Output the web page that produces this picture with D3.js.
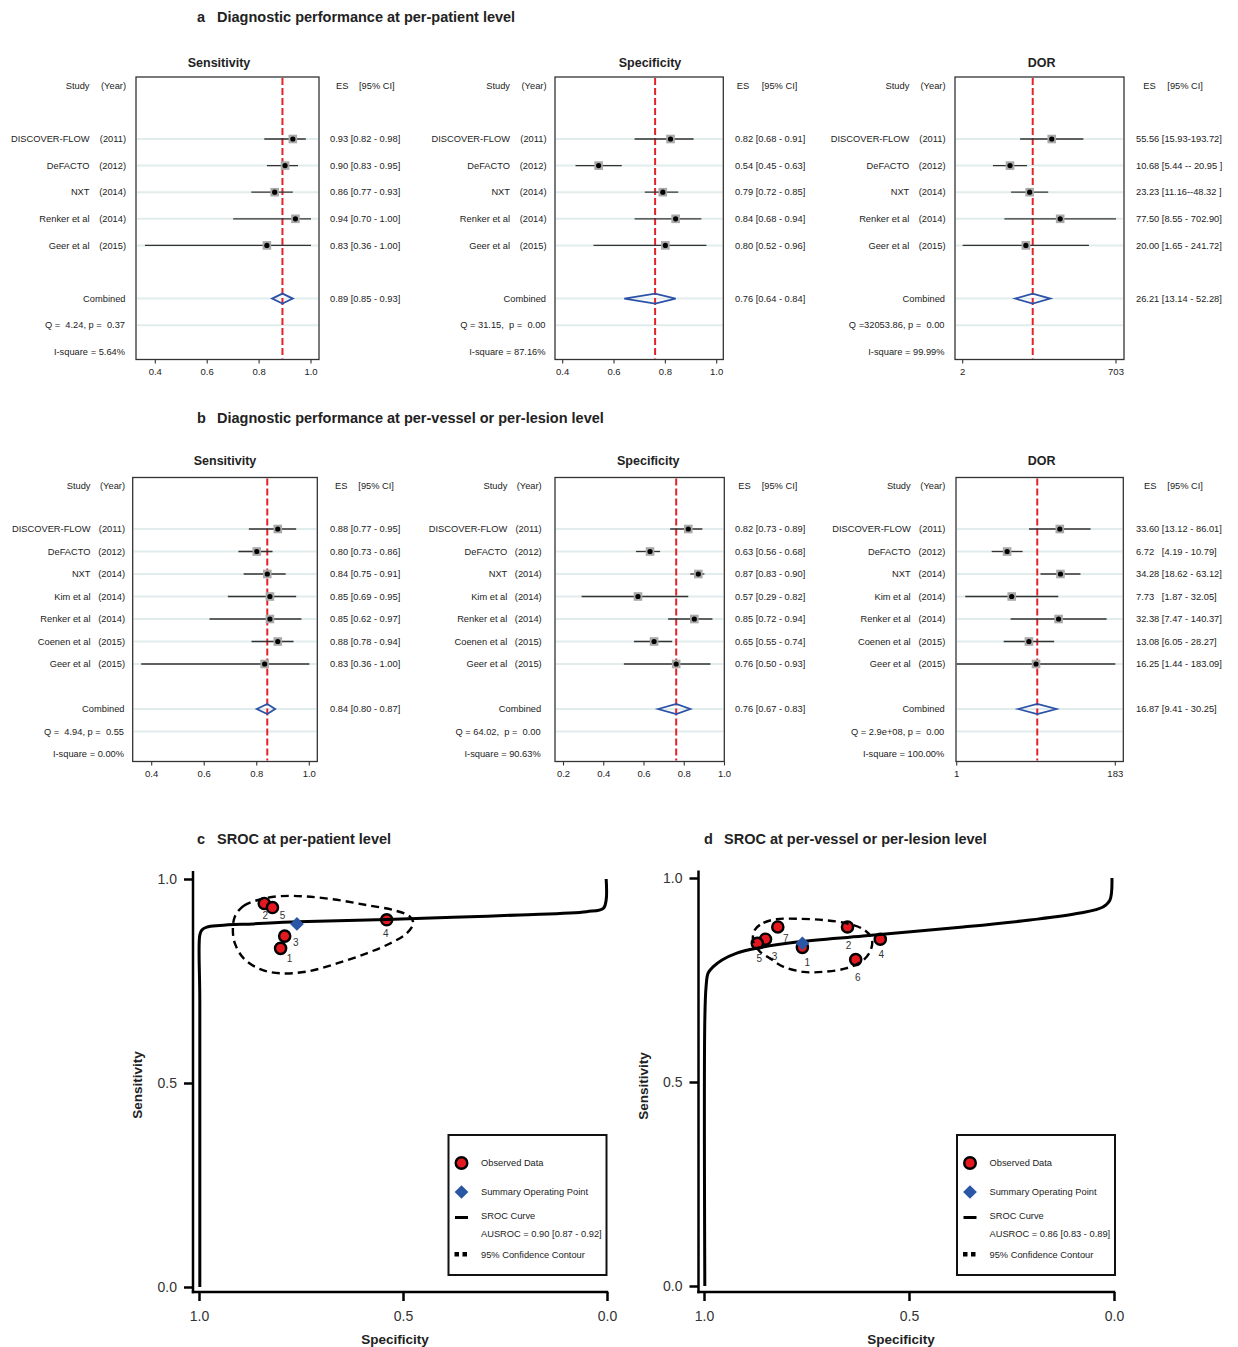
<!DOCTYPE html>
<html><head><meta charset="utf-8">
<script src="https://cdn.jsdelivr.net/npm/d3@7"></script>
<style>
body{margin:0;background:#fff;}
svg{display:block;font-family:"Liberation Sans",Arial,sans-serif;}
text{white-space:pre;}
</style></head><body>
<svg id="chart" width="1238" height="1347"></svg>
<script>
// ================= DATA =================
// Panel a (per-patient)
const studiesA = ["DISCOVER-FLOW","DeFACTO","NXT","Renker et al","Geer et al"];
const yearsA = ["(2011)","(2012)","(2014)","(2014)","(2015)"];
const sensA = [[0.93,0.82,0.98],[0.90,0.83,0.95],[0.86,0.77,0.93],[0.94,0.70,1.00],[0.83,0.36,1.00]];
const specA = [[0.82,0.68,0.91],[0.54,0.45,0.63],[0.79,0.72,0.85],[0.84,0.68,0.94],[0.80,0.52,0.96]];
const dorA  = [[55.56,15.93,193.72],[10.68,5.44,20.95],[23.23,11.16,48.32],[77.50,8.55,702.90],[20.00,1.65,241.72]];
const dorA_labels = ["55.56 [15.93-193.72]","10.68 [5.44 -- 20.95 ]","23.23 [11.16--48.32 ]","77.50 [8.55 - 702.90]","20.00 [1.65 - 241.72]"];
const sensA_comb = [0.89,0.85,0.93];
const specA_comb = [0.76,0.64,0.84];
const dorA_comb  = [26.21,13.14,52.28];
const dorA_comb_label = "26.21 [13.14 - 52.28]";
const qA = ["Q =  4.24, p =  0.37","Q = 31.15,  p =  0.00","Q =32053.86, p =  0.00"];
const iA = ["I-square = 5.64%","I-square = 87.16%","I-square = 99.99%"];
const sensTicksA = [0.4,0.6,0.8,1.0];
const specTicksA = [0.4,0.6,0.8,1.0];
const dorTicksA = [1.65,702.90];
const dorTickLabelsA = ["2","703"];

// Panel b (per-vessel / per-lesion)
const studiesB = ["DISCOVER-FLOW","DeFACTO","NXT","Kim et al","Renker et al","Coenen et al","Geer et al"];
const yearsB = ["(2011)","(2012)","(2014)","(2014)","(2014)","(2015)","(2015)"];
const sensB = [[0.88,0.77,0.95],[0.80,0.73,0.86],[0.84,0.75,0.91],[0.85,0.69,0.95],[0.85,0.62,0.97],[0.88,0.78,0.94],[0.83,0.36,1.00]];
const specB = [[0.82,0.73,0.89],[0.63,0.56,0.68],[0.87,0.83,0.90],[0.57,0.29,0.82],[0.85,0.72,0.94],[0.65,0.55,0.74],[0.76,0.50,0.93]];
const dorB  = [[33.60,13.12,86.01],[6.72,4.19,10.79],[34.28,18.62,63.12],[7.73,1.87,32.05],[32.38,7.47,140.37],[13.08,6.05,28.27],[16.25,1.44,183.09]];
const dorB_labels = ["33.60 [13.12 - 86.01]","6.72   [4.19 - 10.79]","34.28 [18.62 - 63.12]","7.73   [1.87 - 32.05]","32.38 [7.47 - 140.37]","13.08 [6.05 - 28.27]","16.25 [1.44 - 183.09]"];
const sensB_comb = [0.84,0.80,0.87];
const specB_comb = [0.76,0.67,0.83];
const dorB_comb  = [16.87,9.41,30.25];
const dorB_comb_label = "16.87 [9.41 - 30.25]";
const qB = ["Q =  4.94, p =  0.55","Q = 64.02,  p =  0.00","Q = 2.9e+08, p =  0.00"];
const iB = ["I-square = 0.00%","I-square = 90.63%","I-square = 100.00%"];
const sensTicksB = [0.4,0.6,0.8,1.0];
const specTicksB = [0.2,0.4,0.6,0.8,1.0];
const dorTicksB = [1.44,183.09];
const dorTickLabelsB = ["1","183"];

// Panel c SROC (per-patient): [specificity, sensitivity]
const srocC_ids  = ["1","2","3","4","5"];
const srocC_spec = [0.80,0.84,0.79,0.54,0.82];
const srocC_sens = [0.83,0.94,0.86,0.90,0.93];
const srocC_summary = [0.76,0.89];
const srocC_curve = [[0.998,0.0],[0.998,0.70],[0.998,0.863],[0.993,0.875],[0.981,0.882],[0.949,0.886],[0.867,0.890],[0.758,0.895],[0.540,0.901],[0.377,0.906],[0.213,0.912],[0.050,0.920],[0.009,0.928],[0.002,0.949],[0.002,1.0]];
const srocC_contour = [[0.912,0.908],[0.891,0.934],[0.850,0.950],[0.801,0.958],[0.736,0.957],[0.662,0.949],[0.589,0.936],[0.524,0.924],[0.483,0.908],[0.475,0.891],[0.491,0.867],[0.532,0.842],[0.589,0.818],[0.662,0.793],[0.736,0.773],[0.801,0.769],[0.850,0.779],[0.891,0.806],[0.912,0.842],[0.917,0.875]];
const srocC_auc = "AUSROC = 0.90 [0.87 - 0.92]";

// Panel d SROC (per-vessel)
const srocD_ids  = ["1","2","3","4","5","6","7"];
const srocD_spec = [0.76,0.65,0.85,0.57,0.87,0.63,0.82];
const srocD_sens = [0.83,0.88,0.85,0.85,0.84,0.80,0.88];
const srocD_summary = [0.76,0.84];
const srocD_curve = [[0.998,0.0],[0.998,0.652],[0.995,0.733],[0.990,0.767],[0.978,0.782],[0.956,0.799],[0.920,0.816],[0.871,0.828],[0.773,0.843],[0.612,0.858],[0.368,0.880],[0.205,0.897],[0.083,0.914],[0.027,0.929],[0.010,0.946],[0.005,1.0]];
const srocD_contour = [[0.876,0.873],[0.855,0.890],[0.823,0.899],[0.774,0.900],[0.709,0.897],[0.652,0.889],[0.611,0.874],[0.591,0.852],[0.593,0.824],[0.611,0.799],[0.652,0.779],[0.709,0.770],[0.758,0.770],[0.807,0.783],[0.839,0.803],[0.863,0.819],[0.880,0.844]];
const srocD_auc = "AUSROC = 0.86 [0.83 - 0.89]";

const srocTicks = [0, 0.5, 1.0];

// ================= LAYOUT / STYLE =================
const svg = d3.select("#chart");
const TXT = "#222";
const layoutA = {y0:139, step:26.6, head:85.3, top:77, bot:359.5, titleY:66.5};
const layoutB = {y0:529, step:22.5, head:485.7, top:477.5, bot:761.5, titleY:464.5};
// label offsets for SROC study numbers (dx, dy)
const offC = [[9,10],[1,12],[11,6],[-1,14],[10,8]];
const offD = [[5,15],[1,19],[9,17],[1,15],[2,15],[2,18],[8,12]];

function fmt(v){ return v.toFixed(2); }

function forest(cfg, L) {
  const g = svg.append("g");
  const x = (cfg.log ? d3.scaleLog() : d3.scaleLinear())
    .domain([cfg.ticks[0], cfg.ticks[cfg.ticks.length-1]]).range([cfg.t0, cfg.t1]);
  const n = cfg.names.length;
  const rowY = i => L.y0 + i*L.step;
  const combRow = n+1, qRow = n+2, iRow = n+3;
  const fs = 9.3;

  g.append("text").attr("x", cfg.titleX).attr("y", L.titleY).attr("text-anchor","middle")
    .attr("font-size",12.5).attr("font-weight","bold").attr("fill",TXT).text(cfg.title);

  const gridRows = d3.range(n).concat([combRow, qRow]);
  g.selectAll(".grid").data(gridRows).join("line")
    .attr("x1", cfg.boxL+1).attr("x2", cfg.boxR-1)
    .attr("y1", d=>rowY(d)).attr("y2", d=>rowY(d))
    .attr("stroke","#e1ecec").attr("stroke-width",2);

  g.append("line").attr("x1", x(cfg.comb[0])).attr("x2", x(cfg.comb[0]))
    .attr("y1", L.top+1).attr("y2", L.bot-1)
    .attr("stroke","#e42329").attr("stroke-width",2).attr("stroke-dasharray","7,3");

  g.selectAll(".ci").data(cfg.vals).join("line")
    .attr("x1", d=>x(d[1])).attr("x2", d=>x(d[2]))
    .attr("y1", (d,i)=>rowY(i)).attr("y2", (d,i)=>rowY(i))
    .attr("stroke","#333").attr("stroke-width",1.3);
  g.selectAll(".sq").data(cfg.vals).join("rect")
    .attr("x", d=>x(d[0])-4.3).attr("y", (d,i)=>rowY(i)-4.3)
    .attr("width",8.6).attr("height",8.6).attr("fill","#a9a9a9");
  g.selectAll(".dot").data(cfg.vals).join("circle")
    .attr("cx", d=>x(d[0])).attr("cy", (d,i)=>rowY(i)).attr("r",2.6).attr("fill","#000");

  const cy = rowY(combRow), c = cfg.comb;
  g.append("path")
    .attr("d", `M${x(c[1])},${cy} L${x(c[0])},${cy-5} L${x(c[2])},${cy} L${x(c[0])},${cy+5} Z`)
    .attr("fill","none").attr("stroke","#2c52a8").attr("stroke-width",1.8);

  g.append("rect").attr("x", cfg.boxL).attr("y", L.top)
    .attr("width", cfg.boxR-cfg.boxL).attr("height", L.bot-L.top)
    .attr("fill","none").attr("stroke","#333").attr("stroke-width",1.3);

  g.selectAll(".tk").data(cfg.ticks).join("line")
    .attr("x1", d=>x(d)).attr("x2", d=>x(d)).attr("y1", L.bot).attr("y2", L.bot+4)
    .attr("stroke","#333").attr("stroke-width",1.1);
  g.selectAll(".tl").data(cfg.ticks).join("text")
    .attr("x", d=>x(d)).attr("y", L.bot+15.5).attr("text-anchor","middle")
    .attr("font-size",9.5).attr("fill",TXT)
    .text((d,i)=> cfg.tickLabels ? cfg.tickLabels[i] : d.toFixed(1));

  g.append("text").attr("x", cfg.nameR).attr("y", L.head).attr("dy","0.35em").attr("text-anchor","end")
    .attr("font-size",fs).attr("fill",TXT).text("Study");
  g.append("text").attr("x", cfg.yearR).attr("y", L.head).attr("dy","0.35em").attr("text-anchor","end")
    .attr("font-size",fs).attr("fill",TXT).text("(Year)");
  g.append("text").attr("x", cfg.esHX).attr("y", L.head).attr("dy","0.35em")
    .attr("font-size",fs).attr("fill",TXT).text("ES");
  g.append("text").attr("x", cfg.ciHX).attr("y", L.head).attr("dy","0.35em")
    .attr("font-size",fs).attr("fill",TXT).text("[95% CI]");

  g.selectAll(".nm").data(cfg.names).join("text")
    .attr("x", cfg.nameR).attr("y",(d,i)=>rowY(i)).attr("dy","0.35em").attr("text-anchor","end")
    .attr("font-size",fs).attr("fill",TXT).text(d=>d);
  g.selectAll(".yr").data(cfg.years).join("text")
    .attr("x", cfg.yearR).attr("y",(d,i)=>rowY(i)).attr("dy","0.35em").attr("text-anchor","end")
    .attr("font-size",fs).attr("fill",TXT).text(d=>d);
  g.selectAll(".es").data(cfg.vals).join("text")
    .attr("x", cfg.esX).attr("y",(d,i)=>rowY(i)).attr("dy","0.35em")
    .attr("xml:space","preserve")
    .attr("font-size",fs).attr("fill",TXT)
    .text((d,i)=> cfg.labels ? cfg.labels[i] : `${fmt(d[0])} [${fmt(d[1])} - ${fmt(d[2])}]`);

  g.append("text").attr("x", cfg.yearR-0.5).attr("y", rowY(combRow)).attr("dy","0.35em").attr("text-anchor","end")
    .attr("font-size",fs).attr("fill",TXT).text("Combined");
  g.append("text").attr("x", cfg.esX).attr("y", rowY(combRow)).attr("dy","0.35em")
    .attr("font-size",fs).attr("fill",TXT).attr("xml:space","preserve")
    .text(cfg.combLabel ? cfg.combLabel : `${fmt(c[0])} [${fmt(c[1])} - ${fmt(c[2])}]`);
  g.append("text").attr("x", cfg.yearR-1).attr("y", rowY(qRow)).attr("dy","0.35em").attr("text-anchor","end")
    .attr("font-size",fs).attr("fill",TXT).attr("xml:space","preserve").text(cfg.q);
  g.append("text").attr("x", cfg.yearR-1).attr("y", rowY(iRow)).attr("dy","0.35em").attr("text-anchor","end")
    .attr("font-size",fs).attr("fill",TXT).attr("xml:space","preserve").text(cfg.isq);
}

function heading(x, y, letter, label){
  svg.append("text").attr("x",x).attr("y",y).attr("font-size",14.5).attr("font-weight","bold").attr("fill",TXT).text(letter);
  svg.append("text").attr("x",x+20).attr("y",y).attr("font-size",14.5).attr("font-weight","bold").attr("fill",TXT).text(label);
}
heading(197, 22, "a", "Diagnostic performance at per-patient level");
heading(197, 423, "b", "Diagnostic performance at per-vessel or per-lesion level");
heading(197, 844, "c", "SROC at per-patient level");
heading(704, 844, "d", "SROC at per-vessel or per-lesion level");

forest({title:"Sensitivity", names:studiesA, years:yearsA, vals:sensA, comb:sensA_comb, q:qA[0], isq:iA[0],
  ticks:sensTicksA, boxL:136, boxR:319, t0:155.3, t1:311, nameR:89.5, yearR:126, esX:330, esHX:336, ciHX:359, titleX:219}, layoutA);
forest({title:"Specificity", names:studiesA, years:yearsA, vals:specA, comb:specA_comb, q:qA[1], isq:iA[1],
  ticks:specTicksA, boxL:555, boxR:723.3, t0:562.7, t1:716.7, nameR:510, yearR:546.5, esX:735, esHX:736.7, ciHX:761.7, titleX:650}, layoutA);
forest({title:"DOR", names:studiesA, years:yearsA, vals:dorA, labels:dorA_labels, comb:dorA_comb, combLabel:dorA_comb_label, q:qA[2], isq:iA[2],
  log:true, ticks:dorTicksA, tickLabels:dorTickLabelsA, boxL:955, boxR:1124, t0:962.7, t1:1116, nameR:909.3, yearR:945.5, esX:1136, esHX:1143.3, ciHX:1167.3, titleX:1041.7}, layoutA);

forest({title:"Sensitivity", names:studiesB, years:yearsB, vals:sensB, comb:sensB_comb, q:qB[0], isq:iB[0],
  ticks:sensTicksB, boxL:132.7, boxR:317.3, t0:151.7, t1:309.3, nameR:90.5, yearR:125, esX:330, esHX:335, ciHX:358.3, titleX:225}, layoutB);
forest({title:"Specificity", names:studiesB, years:yearsB, vals:specB, comb:specB_comb, q:qB[1], isq:iB[1],
  ticks:specTicksB, boxL:555, boxR:724.3, t0:563.5, t1:724.5, nameR:507.3, yearR:541.7, esX:735, esHX:738.3, ciHX:761.7, titleX:648.3}, layoutB);
forest({title:"DOR", names:studiesB, years:yearsB, vals:dorB, labels:dorB_labels, comb:dorB_comb, combLabel:dorB_comb_label, q:qB[2], isq:iB[2],
  log:true, ticks:dorTicksB, tickLabels:dorTickLabelsB, boxL:956, boxR:1123.3, t0:956.7, t1:1115.3, nameR:910.7, yearR:945.3, esX:1136, esHX:1144, ciHX:1167.3, titleX:1041.7}, layoutB);

// ================= SROC =================
function sroc(cfg){
  const g = svg.append("g");
  const x = d3.scaleLinear().domain([1,0]).range([cfg.xs1, cfg.xs0]);
  const y = d3.scaleLinear().domain([0,1]).range([cfg.y0, cfg.y1]);

  const ya = g.append("g").attr("transform",`translate(${cfg.axX},0)`)
    .call(d3.axisLeft(y).tickValues(srocTicks).tickFormat(d3.format(".1f")).tickSize(9).tickPadding(7));
  const xa = g.append("g").attr("transform",`translate(0,${cfg.axY})`)
    .call(d3.axisBottom(x).tickValues(srocTicks).tickFormat(d3.format(".1f")).tickSize(9).tickPadding(10));
  [ya, xa].forEach(a=>{
    a.select(".domain").remove();
    a.selectAll(".tick line").attr("stroke","#000").attr("stroke-width",2.5);
    a.selectAll(".tick text").attr("font-size",14).attr("fill","#333").attr("font-family","Liberation Sans, Arial, sans-serif");
  });
  g.append("line").attr("x1",cfg.axX).attr("x2",cfg.axX).attr("y1",cfg.axTop).attr("y2",cfg.axY+1.2)
    .attr("stroke","#000").attr("stroke-width",2.5);
  g.append("line").attr("x1",cfg.axX-1.2).attr("x2",x(0)+1.2).attr("y1",cfg.axY).attr("y2",cfg.axY)
    .attr("stroke","#000").attr("stroke-width",2.5);

  g.append("text").attr("transform",`translate(${cfg.ylabX},${cfg.ylabY}) rotate(-90)`)
    .attr("text-anchor","middle").attr("dy","0.35em").attr("font-size",13.5).attr("font-weight","bold").attr("fill",TXT).text("Sensitivity");
  g.append("text").attr("x",(x(1)+x(0))/2-8).attr("y",1344)
    .attr("text-anchor","middle").attr("font-size",13.5).attr("font-weight","bold").attr("fill",TXT).text("Specificity");

  const pts = cfg.spec.map((s,i)=>({s, e:cfg.sens[i], id:cfg.ids[i], off:cfg.off[i]}));
  g.selectAll(".pt").data(pts).join("circle")
    .attr("cx",d=>x(d.s)).attr("cy",d=>y(d.e)).attr("r",5.6)
    .attr("fill","#e3191f").attr("stroke","#000").attr("stroke-width",2.4);
  g.selectAll(".pl").data(pts).join("text")
    .attr("x",d=>x(d.s)+d.off[0]).attr("y",d=>y(d.e)+d.off[1]).attr("dy","0.35em")
    .attr("text-anchor","middle").attr("font-size",10).attr("fill","#333").text(d=>d.id);

  const line = d3.line().x(d=>x(d[0])).y(d=>y(d[1]));
  g.append("path").attr("d", line.curve(d3.curveCatmullRomClosed.alpha(0.5))(cfg.contour))
    .attr("fill","none").attr("stroke","#000").attr("stroke-width",2.4).attr("stroke-dasharray","8,5");
  g.append("path").attr("d", line.curve(d3.curveCatmullRom.alpha(0.5))(cfg.curve))
    .attr("fill","none").attr("stroke","#000").attr("stroke-width",3).attr("stroke-linejoin","round");
  g.append("path").attr("d", d3.symbol().type(d3.symbolDiamond2).size(120)())
    .attr("transform",`translate(${x(cfg.summary[0])},${y(cfg.summary[1])})`)
    .attr("fill","#2b55a5");

  const lx = cfg.legX, ly = 1135;
  const lg = g.append("g");
  lg.append("rect").attr("x",lx).attr("y",ly).attr("width",158).attr("height",140)
    .attr("fill","#fff").attr("stroke","#111").attr("stroke-width",2);
  const ix = lx+13, tx = lx+32.5, lfs = 9.3;
  lg.append("circle").attr("cx",ix).attr("cy",ly+28).attr("r",5.8).attr("fill","#e3191f").attr("stroke","#000").attr("stroke-width",2.4);
  lg.append("path").attr("d", d3.symbol().type(d3.symbolDiamond2).size(120)())
    .attr("transform",`translate(${ix},${ly+57})`).attr("fill","#2b55a5");
  lg.append("line").attr("x1",ix-6.5).attr("x2",ix+6.5).attr("y1",ly+82.5).attr("y2",ly+82.5).attr("stroke","#000").attr("stroke-width",3);
  lg.selectAll(".sqd").data([0,1]).join("rect").attr("x",d=>ix-7+d*8).attr("y",ly+117).attr("width",4.5).attr("height",4.5).attr("fill","#000");
  const items = [["Observed Data",28],["Summary Operating Point",57],["SROC Curve",81],[cfg.auc,98.5],["95% Confidence Contour",119.5]];
  lg.selectAll(".lt").data(items).join("text").attr("x",tx).attr("y",d=>ly+d[1]).attr("dy","0.35em")
    .attr("font-size",lfs).attr("fill",TXT).text(d=>d[0]);
}

sroc({ids:srocC_ids, spec:srocC_spec, sens:srocC_sens, summary:srocC_summary, curve:srocC_curve, contour:srocC_contour, auc:srocC_auc, off:offC,
  xs1:199, xs0:607, y0:1287, y1:879, axX:193, axY:1292, axTop:871, ylabX:137, ylabY:1085, legX:448.5});
sroc({ids:srocD_ids, spec:srocD_spec, sens:srocD_sens, summary:srocD_summary, curve:srocD_curve, contour:srocD_contour, auc:srocD_auc, off:offD,
  xs1:704, xs0:1114, y0:1286, y1:878, axX:698.5, axY:1292, axTop:870.5, ylabX:643, ylabY:1086, legX:957});
</script>
</body></html>
